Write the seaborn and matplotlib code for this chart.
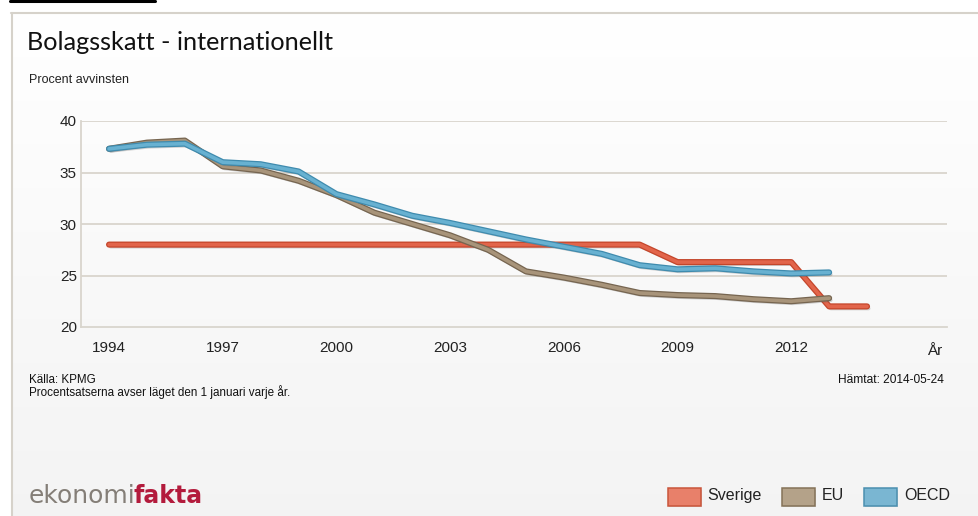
import numpy as np
import pandas as pd
import seaborn as sns
import matplotlib.pyplot as plt
import matplotlib.transforms as mtransforms
from matplotlib import patheffects as pe
from matplotlib.patches import Rectangle
from matplotlib.lines import Line2D

# Corporate tax rates, percent of profit (1 January each year)
years_sverige = [1994, 1995, 1996, 1997, 1998, 1999, 2000, 2001, 2002, 2003, 2004,
                 2005, 2006, 2007, 2008, 2009, 2010, 2011, 2012, 2013, 2014]
sverige = [28.0, 28.0, 28.0, 28.0, 28.0, 28.0, 28.0, 28.0, 28.0, 28.0, 28.0,
           28.0, 28.0, 28.0, 28.0, 26.3, 26.3, 26.3, 26.3, 22.0, 22.0]

years_intl = [1994, 1995, 1996, 1997, 1998, 1999, 2000, 2001, 2002, 2003,
              2004, 2005, 2006, 2007, 2008, 2009, 2010, 2011, 2012, 2013]
eu = [37.3, 37.9, 38.1, 35.6, 35.2, 34.2, 32.8, 31.1, 30.0, 28.9,
      27.5, 25.4, 24.8, 24.1, 23.3, 23.1, 23.0, 22.7, 22.5, 22.8]
oecd = [37.3, 37.7, 37.8, 36.0, 35.8, 35.1, 32.9, 31.9, 30.8, 30.1,
        29.3, 28.5, 27.8, 27.1, 26.0, 25.6, 25.7, 25.4, 25.2, 25.3]

series_names = ["Sverige", "EU", "OECD"]
x_ticks = [1994, 1997, 2000, 2003, 2006, 2009, 2012, 2015]
x_tick_labels = ["1994", "1997", "2000", "2003", "2006", "2009", "2012", ""]
y_ticks = [20, 25, 30, 35, 40]

line_fill = {"Sverige": "#e2654b", "EU": "#a8947a", "OECD": "#68b1d1"}
line_edge = {"Sverige": "#c4462b", "EU": "#766550", "OECD": "#3f8bae"}
patch_fill = {"Sverige": "#e8806a", "EU": "#b4a289", "OECD": "#7ab6d2"}
patch_edge = {"Sverige": "#c9553b", "EU": "#857258", "OECD": "#4b8fb0"}

df = pd.concat([
    pd.DataFrame({"År": years_sverige, "Procent": sverige, "Serie": "Sverige"}),
    pd.DataFrame({"År": years_intl, "Procent": eu, "Serie": "EU"}),
    pd.DataFrame({"År": years_intl, "Procent": oecd, "Serie": "OECD"}),
], ignore_index=True)

sns.set_theme(style="white")
plt.rcParams["font.family"] = ["Liberation Sans", "DejaVu Sans"]

W, H = 979, 516
fig = plt.figure(figsize=(W / 100, H / 100), dpi=100, facecolor="white")


def fx(px):
    return px / W


def fy(py):
    return 1 - py / H


# Panel background with a soft vertical gradient and a thin frame
bg = fig.add_axes([fx(11), 0, 1 - fx(11), fy(12)], zorder=-5)
grad = np.linspace(1.0, 0.0, 256).reshape(-1, 1)
top_c = np.array([1.0, 1.0, 1.0])
bot_c = np.array([0.955, 0.955, 0.955])
img = grad[..., None] * top_c + (1 - grad[..., None]) * bot_c
bg.imshow(img, aspect="auto", extent=[0, 1, 0, 1], origin="upper")
bg.set_xlim(0, 1)
bg.set_ylim(0, 1)
bg.axis("off")
fig.add_artist(Line2D([fx(11), 1], [fy(12.5), fy(12.5)], color="#d6d2ca", lw=1.5))
fig.add_artist(Line2D([fx(11.5), fx(11.5)], [fy(12.5), 0], color="#d6d2ca", lw=1.5))
fig.add_artist(Line2D([fx(10), fx(155)], [fy(1), fy(1)], color="black", lw=2.2))

# Main chart
ax = fig.add_axes([fx(81), fy(327), fx(947) - fx(81), fy(121) - fy(327)])
ax.set_facecolor("none")
sns.lineplot(data=df, x="År", y="Procent", hue="Serie", hue_order=series_names,
             palette=line_fill, linewidth=2.6, legend=False, ax=ax,
             solid_joinstyle="round", solid_capstyle="round")

for line, name in zip(ax.lines, series_names):
    line.set_path_effects([
        pe.SimpleLineShadow(offset=(1.2, -1.5), shadow_color="#555555", alpha=0.25),
        pe.Stroke(linewidth=4.4, foreground=line_edge[name]),
        pe.Normal(),
    ])
    line.set_zorder(3)

ax.set_xlim(1993.26, 2016.11)
ax.set_ylim(20, 40)
ax.set_yticks(y_ticks)
ax.set_xticks(x_ticks, x_tick_labels)
ax.set_xlabel("")
ax.set_ylabel("")

grid_c = "#d9d5cd"
for v in y_ticks[1:]:
    ax.axhline(v, color=grid_c, lw=1.3, zorder=1)
for side in ["top", "right"]:
    ax.spines[side].set_visible(False)
for side in ["left", "bottom"]:
    ax.spines[side].set_color(grid_c)
    ax.spines[side].set_linewidth(1.3)

ax.tick_params(axis="y", length=0, pad=3, labelsize=11, labelcolor="#222222")
ax.tick_params(axis="x", direction="inout", length=8, width=1.1, color=grid_c,
               pad=6, labelsize=11, labelcolor="#222222")

axis_name_tf = mtransforms.blended_transform_factory(ax.transData, fig.transFigure)
ax.text(2015.78, fy(355), "År", transform=axis_name_tf,
        ha="center", va="baseline", fontsize=11, color="#222222")

# Titles
fig.text(fx(27), fy(50), "Bolagsskatt - internationellt", fontsize=18.2,
         family=["Lato", "DejaVu Sans"], color="#111111", va="baseline")
fig.text(fx(29), fy(83), "Procent avvinsten", fontsize=9, color="#222222",
         va="baseline")

# Source notes
fig.text(fx(29), fy(383), "Källa: KPMG", fontsize=8.4, color="#111111",
         va="baseline")
fig.text(fx(29), fy(396), "Procentsatserna avser läget den 1 januari varje år.",
         fontsize=8.4, color="#111111", va="baseline")
fig.text(fx(944), fy(383), "Hämtat: 2014-05-24", fontsize=8.6, color="#111111",
         va="baseline", ha="right")

# Logo
fig.text(fx(29), fy(503), "ekonomi", fontsize=18, family="DejaVu Sans",
         color="#847e77", va="baseline")
fig.text(fx(133), fy(503), "fakta", fontsize=17, family="DejaVu Sans",
         weight="bold", color="#b31b3c", va="baseline")

# Legend
legend_items = [("Sverige", 668, 707), ("EU", 782, 822), ("OECD", 864, 904)]
for name, px0, tx in legend_items:
    fig.add_artist(Rectangle((fx(px0 + 1.5), fy(507)), fx(33), fy(488) - fy(505),
                             facecolor="#000000", alpha=0.12, edgecolor="none"))
    fig.add_artist(Rectangle((fx(px0), fy(505.5)), fx(33), fy(488) - fy(505.5),
                             facecolor=patch_fill[name], edgecolor=patch_edge[name],
                             lw=1.1))
    fig.text(fx(tx), fy(500), name, fontsize=11.5, color="#222222", va="baseline")

fig.savefig("out.png", dpi=100, facecolor="white")
